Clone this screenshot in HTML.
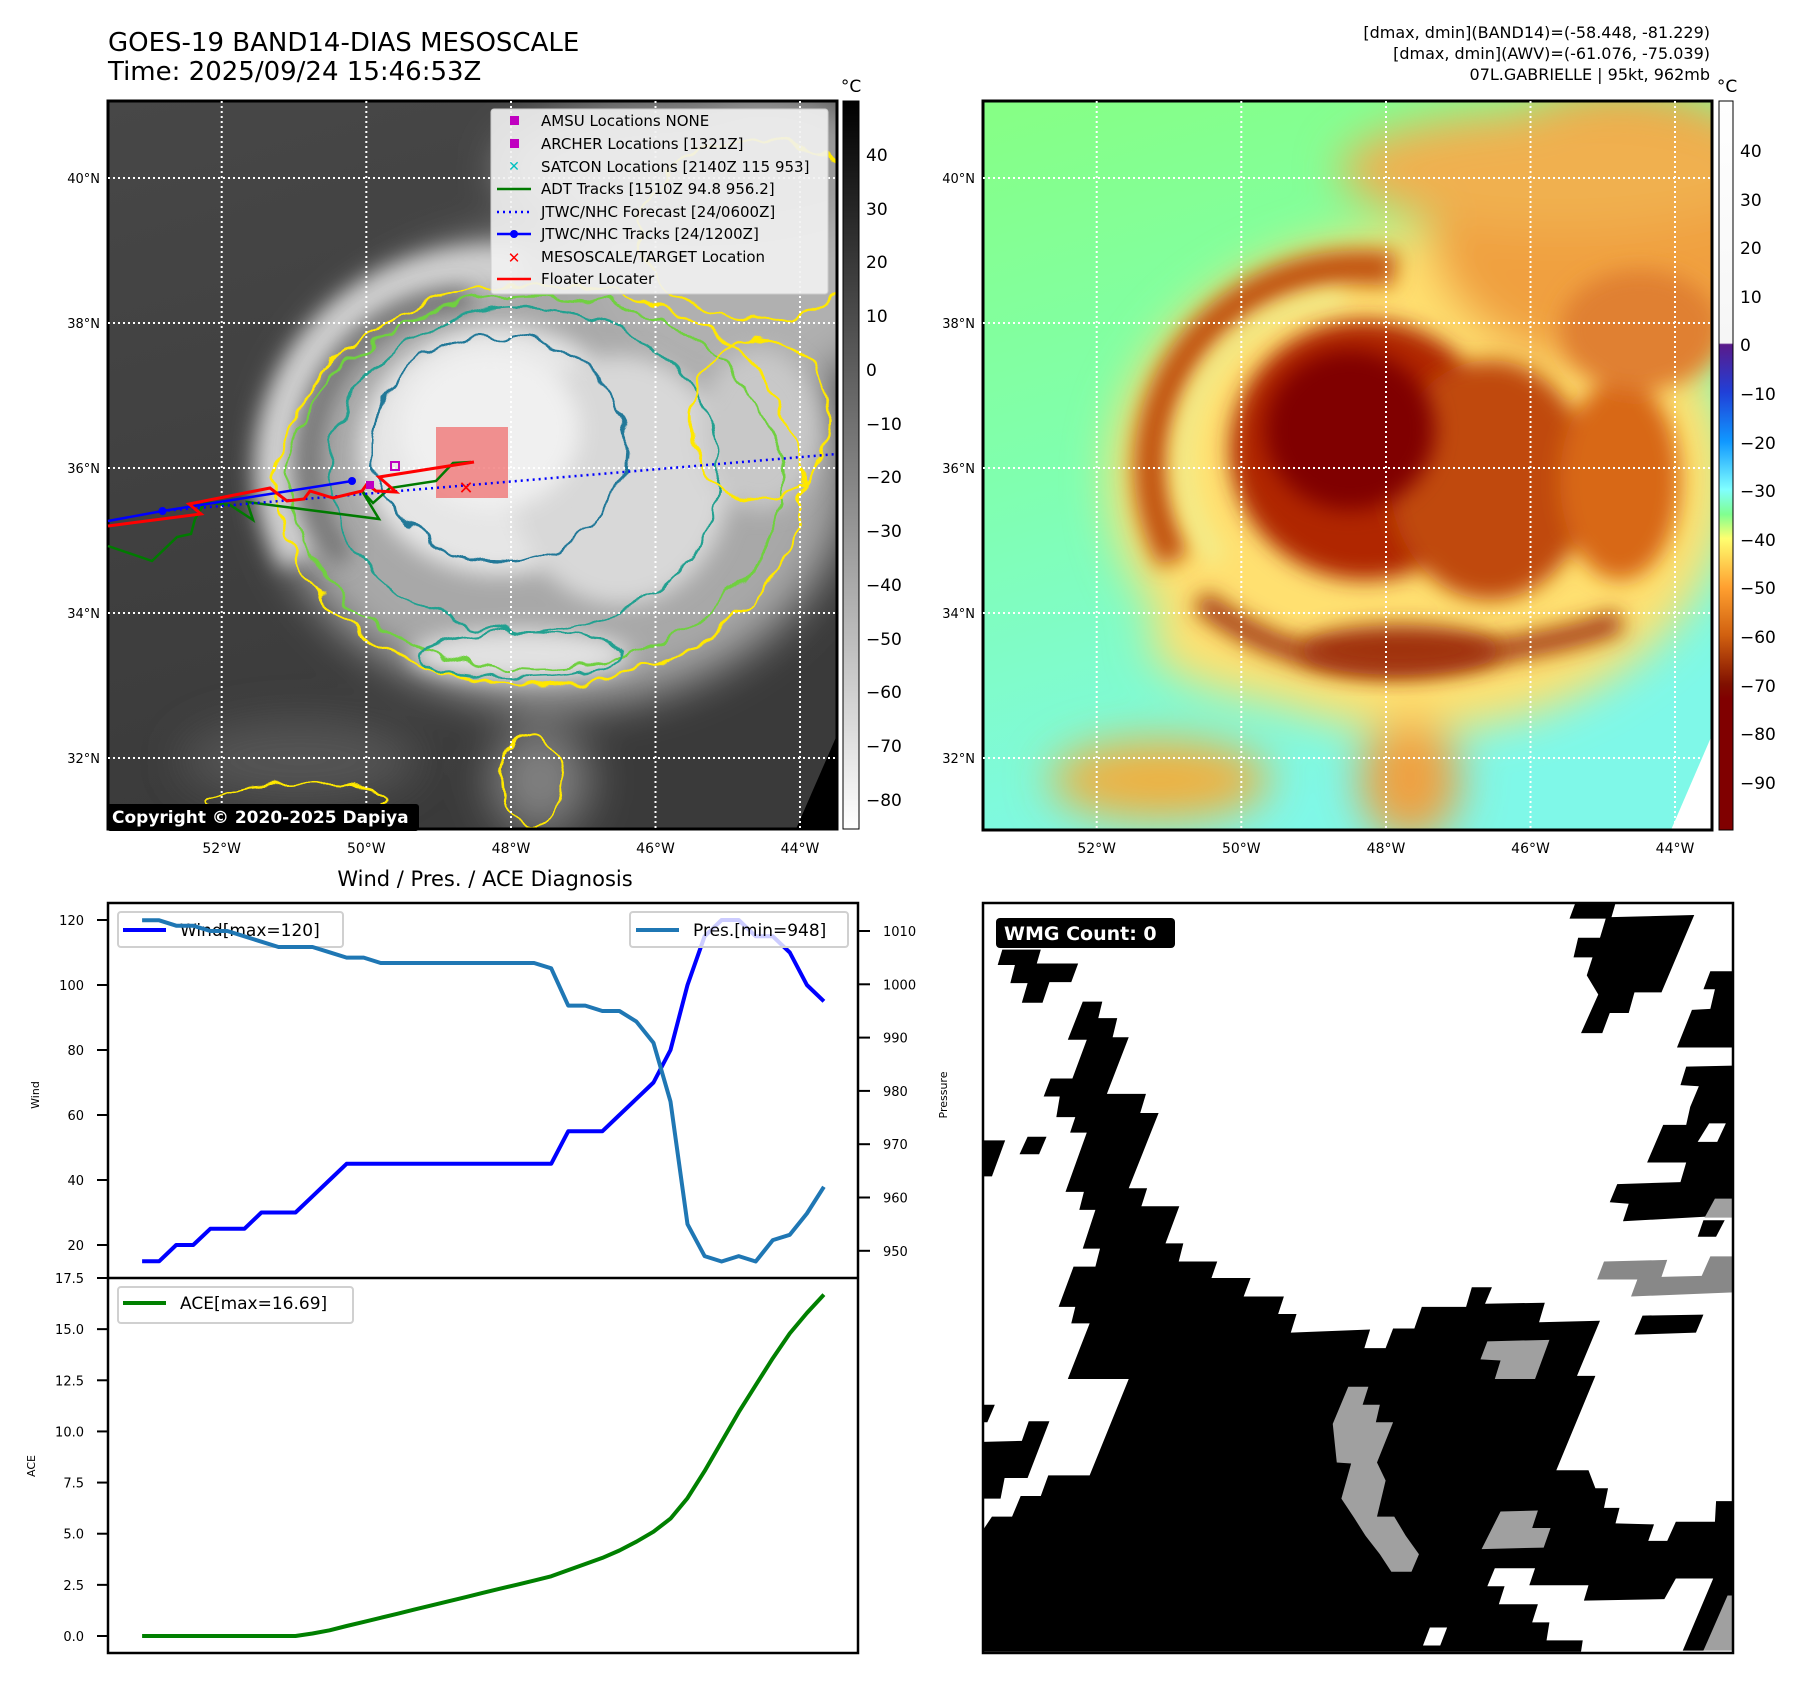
<!DOCTYPE html>
<html><head><meta charset="utf-8"><style>
html,body{margin:0;padding:0;background:#fff}
svg{display:block;font-family:"DejaVu Sans","Liberation Sans",sans-serif}
</style></head><body>
<svg id="fig" width="1801" height="1690" viewBox="0 0 1801 1690" xmlns="http://www.w3.org/2000/svg">
<defs>
<clipPath id="clipL"><rect x="108" y="101" width="729" height="728"/></clipPath>
<clipPath id="clipR"><rect x="983" y="101" width="729" height="729"/></clipPath>
<filter id="b25" x="-50%" y="-50%" width="200%" height="200%"><feGaussianBlur stdDeviation="22"/></filter>
<filter id="b12" x="-50%" y="-50%" width="200%" height="200%"><feGaussianBlur stdDeviation="11"/></filter>
<filter id="b6" x="-50%" y="-50%" width="200%" height="200%"><feGaussianBlur stdDeviation="5"/></filter>
<filter id="wob" x="-20%" y="-20%" width="140%" height="140%"><feTurbulence type="fractalNoise" baseFrequency="0.035" numOctaves="2" seed="3" result="n"/><feDisplacementMap in="SourceGraphic" in2="n" scale="22" xChannelSelector="R" yChannelSelector="G"/></filter>
<linearGradient id="gBgR" x1="0" y1="0" x2="0.3" y2="1"><stop offset="0" stop-color="#86ff84"/><stop offset="0.5" stop-color="#80ffb0"/><stop offset="1" stop-color="#7ff8e8"/></linearGradient>
<linearGradient id="gBgL" x1="0" y1="0" x2="0.3" y2="1"><stop offset="0" stop-color="#474747"/><stop offset="1" stop-color="#3a3a3a"/></linearGradient>
<linearGradient id="cbL" x1="0" y1="0" x2="0" y2="1"><stop offset="0" stop-color="#000"/><stop offset="1" stop-color="#fff"/></linearGradient>
<linearGradient id="cbR" x1="0" y1="0" x2="0" y2="1">
<stop offset="0" stop-color="#ffffff"/><stop offset="0.332" stop-color="#f6f6f6"/><stop offset="0.334" stop-color="#5a1a8a"/><stop offset="0.4" stop-color="#2040d8"/><stop offset="0.467" stop-color="#1098ff"/><stop offset="0.533" stop-color="#80ffff"/><stop offset="0.567" stop-color="#80ff90"/><stop offset="0.6" stop-color="#ffff70"/><stop offset="0.667" stop-color="#ffa030"/><stop offset="0.733" stop-color="#d06010"/><stop offset="0.8" stop-color="#801000"/><stop offset="0.82" stop-color="#800000"/><stop offset="1" stop-color="#800000"/></linearGradient>
</defs>

<text x="108" y="51" font-size="26">GOES-19 BAND14-DIAS MESOSCALE</text>
<text x="108" y="80" font-size="26">Time: 2025/09/24 15:46:53Z</text>
<g font-size="16" text-anchor="end">
<text x="1710" y="38">[dmax, dmin](BAND14)=(-58.448, -81.229)</text>
<text x="1710" y="59">[dmax, dmin](AWV)=(-61.076, -75.039)</text>
<text x="1710" y="80">07L.GABRIELLE | 95kt, 962mb</text>
</g>

<!-- LEFT MAP -->
<g clip-path="url(#clipL)">
<rect x="108" y="101" width="729" height="728" fill="url(#gBgL)"/>
<g filter="url(#b25)">
<ellipse cx="560" cy="470" rx="290" ry="235" fill="#a8a8a8"/>
<ellipse cx="760" cy="240" rx="170" ry="150" fill="#b0b0b0"/>
<ellipse cx="700" cy="170" rx="200" ry="70" fill="#9a9a9a"/>
<ellipse cx="300" cy="760" rx="120" ry="40" fill="#555"/>
<ellipse cx="540" cy="780" rx="50" ry="55" fill="#808080"/>
</g>
<path d="M300,560 A210,200 0 0 1 520,270" stroke="#d0d0d0" stroke-width="40" fill="none" filter="url(#b12)"/>
<path d="M344,560 A160,160 0 0 1 470,300" stroke="#707070" stroke-width="22" fill="none" filter="url(#b12)"/>
<g filter="url(#b12)">
<ellipse cx="500" cy="450" rx="140" ry="125" fill="#e6e6e6"/>
<ellipse cx="620" cy="480" rx="110" ry="125" fill="#d8d8d8"/>
<ellipse cx="520" cy="655" rx="110" ry="25" fill="#e2e2e2"/>
<ellipse cx="760" cy="430" rx="60" ry="80" fill="#c8c8c8"/>
</g>
<ellipse cx="490" cy="430" rx="90" ry="80" fill="#f0f0f0" filter="url(#b12)"/>
<g fill="none" stroke-width="2.5" filter="url(#wob)">
<ellipse cx="540" cy="485" rx="262" ry="200" stroke="#ffe800"/>
<ellipse cx="535" cy="482" rx="246" ry="186" stroke="#70d040"/>
<ellipse cx="525" cy="470" rx="195" ry="162" stroke="#20a090"/>
<ellipse cx="500" cy="448" rx="128" ry="112" stroke="#207898"/>
<ellipse cx="520" cy="655" rx="100" ry="22" stroke="#20a090"/>
<ellipse cx="760" cy="420" rx="70" ry="80" stroke="#ffe800"/>
<ellipse cx="760" cy="230" rx="120" ry="90" stroke="#ffe800"/>
<ellipse cx="530" cy="780" rx="30" ry="45" stroke="#ffe800"/>
<ellipse cx="300" cy="800" rx="90" ry="16" stroke="#ffe800"/>
</g>
<polygon points="837,735 837,829 796,829" fill="#000"/>
</g>
<rect x="108" y="101" width="729" height="728" fill="none" stroke="#000" stroke-width="3"/>
<g stroke="#fff" stroke-width="2" stroke-dasharray="2,3">
<line x1="221.7" y1="101" x2="221.7" y2="829"/><line x1="366.3" y1="101" x2="366.3" y2="829"/><line x1="511" y1="101" x2="511" y2="829"/><line x1="655.5" y1="101" x2="655.5" y2="829"/><line x1="800" y1="101" x2="800" y2="829"/>
<line x1="108" y1="178" x2="837" y2="178"/><line x1="108" y1="323" x2="837" y2="323"/><line x1="108" y1="468" x2="837" y2="468"/><line x1="108" y1="613" x2="837" y2="613"/><line x1="108" y1="758" x2="837" y2="758"/>
</g>
<g>
<rect x="436" y="427" width="72" height="71" fill="rgba(240,90,90,0.65)"/>
<polyline points="108,546 152,561 177,537 191,534 195,519 205,502 230,505 253,520 247,502 379,519 362,491 373,503 390,488 436,481 453,463 471,462" fill="none" stroke="#007a00" stroke-width="2.5"/>
<line x1="162" y1="511" x2="837" y2="454" stroke="#0000ff" stroke-width="2.5" stroke-dasharray="2,4"/>
<polyline points="108,521 162.5,511 352,481" fill="none" stroke="#0000ff" stroke-width="2.5"/>
<circle cx="162.5" cy="511" r="4" fill="#0000ff"/><circle cx="352" cy="481" r="4" fill="#0000ff"/>
<polyline points="108,526 201,514 189,504 270,488 287,501 304,499 310,491 333,498 362,491 367,484 376,491 396,492 379,477 474,462" fill="none" stroke="#ff0000" stroke-width="3"/>
<rect x="391" y="462" width="8" height="8" fill="none" stroke="#c000c0" stroke-width="2"/>
<rect x="366" y="481" width="8" height="8" fill="#c000c0"/>
<text x="466" y="494" font-size="18" font-weight="bold" fill="#ff0000" text-anchor="middle">✕</text>
</g>
<g>
<rect x="491" y="109" width="337" height="185" rx="3" fill="rgba(242,242,242,0.9)" stroke="#ccc"/>
<g font-size="15">
<rect x="510" y="116" width="9" height="9" fill="#c000c0"/><text x="541" y="126">AMSU Locations NONE</text>
<rect x="510" y="139" width="9" height="9" fill="#c000c0"/><text x="541" y="149">ARCHER Locations [1321Z]</text>
<text x="514" y="171" fill="#00c0c0" font-size="14" font-weight="bold" text-anchor="middle">✕</text><text x="541" y="172">SATCON Locations [2140Z 115 953]</text>
<line x1="497" y1="189" x2="531" y2="189" stroke="#007a00" stroke-width="2.5"/><text x="541" y="194">ADT Tracks [1510Z 94.8 956.2]</text>
<line x1="497" y1="212" x2="531" y2="212" stroke="#0000ff" stroke-width="2.5" stroke-dasharray="2,4"/><text x="541" y="217">JTWC/NHC Forecast [24/0600Z]</text>
<line x1="497" y1="234" x2="531" y2="234" stroke="#0000ff" stroke-width="2.5"/><circle cx="514" cy="234" r="4" fill="#0000ff"/><text x="541" y="239">JTWC/NHC Tracks [24/1200Z]</text>
<text x="514" y="263" fill="#ff0000" font-size="15" font-weight="bold" text-anchor="middle">✕</text><text x="541" y="262">MESOSCALE/TARGET Location</text>
<line x1="497" y1="279" x2="531" y2="279" stroke="#ff0000" stroke-width="2.5"/><text x="541" y="284">Floater Locater</text>
</g></g>
<g>
<rect x="107" y="804" width="312" height="27" rx="3" fill="#000"/>
<text x="112" y="823" font-size="17" font-weight="bold" fill="#fff">Copyright © 2020-2025 Dapiya</text>
</g>
<g font-size="13" text-anchor="end">
<text x="100" y="183">40°N</text><text x="100" y="328">38°N</text><text x="100" y="473">36°N</text><text x="100" y="618">34°N</text><text x="100" y="763">32°N</text></g>
<g font-size="14" text-anchor="middle">
<text x="221.7" y="853">52°W</text><text x="366.3" y="853">50°W</text><text x="511" y="853">48°W</text><text x="655.5" y="853">46°W</text><text x="800" y="853">44°W</text></g>
<g>
<rect x="843" y="101" width="16" height="728" fill="url(#cbL)" stroke="#000" stroke-width="1"/>
<text x="851" y="92" font-size="17" text-anchor="middle">°C</text>
<g font-size="17">
<text x="866" y="161">40</text><text x="866" y="215">30</text><text x="866" y="268">20</text><text x="866" y="322">10</text><text x="866" y="376">0</text><text x="866" y="430">−10</text><text x="866" y="483">−20</text><text x="866" y="537">−30</text><text x="866" y="591">−40</text><text x="866" y="645">−50</text><text x="866" y="698">−60</text><text x="866" y="752">−70</text><text x="866" y="806">−80</text>
</g></g>

<!-- RIGHT MAP -->
<g clip-path="url(#clipR)">
<rect x="983" y="101" width="729" height="729" fill="url(#gBgR)"/>
<g filter="url(#b25)">
<ellipse cx="1420" cy="480" rx="310" ry="250" fill="#ffe070"/>
<ellipse cx="1380" cy="640" rx="230" ry="70" fill="#ffe070"/>
<ellipse cx="1620" cy="230" rx="190" ry="140" fill="#f0a040"/>
<ellipse cx="1560" cy="170" rx="220" ry="60" fill="#f0b050"/>
<ellipse cx="1160" cy="780" rx="110" ry="40" fill="#f0b040"/>
<ellipse cx="1410" cy="780" rx="50" ry="60" fill="#f0a040"/>
</g>
<path d="M1175,560 A210,200 0 0 1 1395,270" stroke="#c05010" stroke-width="34" fill="none" filter="url(#b12)"/>
<path d="M1219,560 A160,160 0 0 1 1345,300" stroke="#f0f090" stroke-width="18" fill="none" filter="url(#b12)"/>
<path d="M1200,600 Q1300,680 1440,660 T1620,620" stroke="#a03008" stroke-width="22" fill="none" filter="url(#b12)"/>
<g filter="url(#b12)">
<ellipse cx="1365" cy="450" rx="135" ry="130" fill="#b02800"/>
<ellipse cx="1490" cy="480" rx="100" ry="120" fill="#c04a08"/>
<ellipse cx="1620" cy="480" rx="60" ry="100" fill="#d86818"/>
<ellipse cx="1640" cy="330" rx="80" ry="60" fill="#e08030"/>
<ellipse cx="1400" cy="650" rx="100" ry="25" fill="#a03010"/>
</g>
<ellipse cx="1350" cy="430" rx="85" ry="80" fill="#800000" filter="url(#b12)"/>
<polygon points="1712,735 1712,830 1671,830" fill="#fff"/>
</g>
<rect x="983" y="101" width="729" height="729" fill="none" stroke="#000" stroke-width="3"/>
<g stroke="#fff" stroke-width="2" stroke-dasharray="2,3">
<line x1="1096.7" y1="101" x2="1096.7" y2="830"/><line x1="1241.3" y1="101" x2="1241.3" y2="830"/><line x1="1386" y1="101" x2="1386" y2="830"/><line x1="1530.5" y1="101" x2="1530.5" y2="830"/><line x1="1675" y1="101" x2="1675" y2="830"/>
<line x1="983" y1="178" x2="1712" y2="178"/><line x1="983" y1="323" x2="1712" y2="323"/><line x1="983" y1="468" x2="1712" y2="468"/><line x1="983" y1="613" x2="1712" y2="613"/><line x1="983" y1="758" x2="1712" y2="758"/>
</g>
<g font-size="13" text-anchor="end">
<text x="975" y="183">40°N</text><text x="975" y="328">38°N</text><text x="975" y="473">36°N</text><text x="975" y="618">34°N</text><text x="975" y="763">32°N</text></g>
<g font-size="14" text-anchor="middle">
<text x="1096.7" y="853">52°W</text><text x="1241.3" y="853">50°W</text><text x="1386" y="853">48°W</text><text x="1530.5" y="853">46°W</text><text x="1675" y="853">44°W</text></g>
<g>
<rect x="1719" y="101" width="14" height="729" fill="url(#cbR)" stroke="#000" stroke-width="1"/>
<text x="1727" y="92" font-size="17" text-anchor="middle">°C</text>
<g font-size="17">
<text x="1740" y="157">40</text><text x="1740" y="206">30</text><text x="1740" y="254">20</text><text x="1740" y="303">10</text><text x="1740" y="351">0</text><text x="1740" y="400">−10</text><text x="1740" y="449">−20</text><text x="1740" y="497">−30</text><text x="1740" y="546">−40</text><text x="1740" y="594">−50</text><text x="1740" y="643">−60</text><text x="1740" y="692">−70</text><text x="1740" y="740">−80</text><text x="1740" y="789">−90</text>
</g></g>

<text x="485" y="886" font-size="21" text-anchor="middle">Wind / Pres. / ACE Diagnosis</text>
<g id="chart"></g>

<g>
<rect x="983" y="903" width="750" height="750" fill="#fff"/>
<g transform="translate(900,880) scale(0.5747,0.5155)">
<polygon fill="#000" points="145,1260 160,1235 195,1235 210,1195 245,1195 258,1155 330,1155 398,968 292,968 330,860 298,860 305,828 276,828 302,750 340,750 348,715 318,715 340,640 312,640 320,605 288,605 325,490 296,490 305,460 272,460 278,420 250,420 262,385 300,385 325,310 292,310 318,236 352,236 345,268 378,268 370,305 398,305 360,415 428,415 418,452 450,452 398,598 430,598 420,633 486,633 462,705 493,705 485,740 552,740 542,772 610,772 598,808 668,808 658,842 690,842 680,878 818,872 808,908 845,908 858,870 895,870 908,828 985,828 995,790 1030,790 1018,822 1122,820 1112,858 1218,855 1178,962 1210,962 1142,1145 1198,1145 1210,1180 1232,1180 1225,1218 1252,1218 1245,1248 1312,1250 1302,1282 1335,1282 1350,1245 1418,1245 1420,1205 1450,1205 1450,1395 1398,1495 1362,1495 1415,1355 1350,1355 1330,1395 1190,1398 1198,1368 1095,1368 1105,1335 1035,1335 1022,1370 1052,1370 1042,1405 1110,1405 1100,1440 1130,1440 1125,1475 1188,1475 1185,1497 145,1497"/>
<polygon fill="#fff" points="910,1485 922,1450 952,1450 940,1485"/>
<polygon fill="#000" points="145,505 183,505 160,575 145,575"/>
<polygon fill="#000" points="208,532 222,498 255,498 242,532"/>
<polygon fill="#000" points="145,1018 165,1018 152,1052 145,1052"/>
<polygon fill="#000" points="145,1090 212,1088 224,1050 260,1050 222,1160 182,1160 175,1200 145,1200"/>
<polygon fill="#000" points="170,165 178,135 245,135 238,162 310,162 298,198 260,198 248,238 212,238 222,200 192,200 200,165"/>
<polygon fill="#000" points="1165,75 1175,45 1245,45 1238,72 1382,68 1325,218 1278,218 1268,258 1235,258 1222,297 1185,297 1215,222 1195,185 1205,150 1172,150 1180,112 1218,112 1228,75"/>
<polygon fill="#000" points="1398,212 1410,177 1450,177 1450,325 1352,325 1378,252 1410,250 1418,212"/>
<polygon fill="#000" points="1358,398 1368,362 1450,360 1450,650 1258,662 1268,628 1235,625 1248,590 1358,586 1368,548 1300,548 1328,475 1368,475 1375,440 1390,400"/>
<polygon fill="#fff" points="1388,508 1408,472 1437,472 1422,508"/>
<polygon fill="#000" points="1388,692 1398,660 1435,660 1420,692"/>
<polygon fill="#000" points="1278,882 1292,845 1398,843 1385,878"/>
<polygon fill="#888" points="1213,775 1225,740 1335,737 1325,770 1395,768 1410,730 1450,730 1450,800 1272,808 1283,775"/>
<polygon fill="#a0a0a0" points="1400,655 1418,618 1450,618 1450,655"/>
<polygon fill="#a0a0a0" points="1010,930 1022,895 1130,892 1105,968 1035,968 1045,932"/>
<polygon fill="#a0a0a0" points="1012,1298 1045,1225 1110,1223 1100,1257 1132,1257 1120,1295"/>
<polygon fill="#a0a0a0" points="753,1055 780,983 815,983 805,1018 835,1018 828,1052 858,1052 830,1130 845,1165 830,1235 860,1235 880,1272 903,1308 890,1342 855,1342 835,1308 810,1272 790,1237 768,1200 785,1132 760,1130"/>
<polygon fill="#a0a0a0" points="1398,1495 1440,1388 1450,1388 1450,1495"/>
</g>
<rect x="983" y="903" width="750" height="750" fill="none" stroke="#000" stroke-width="2.5"/>
<rect x="996" y="918" width="179" height="30" rx="4" fill="#000"/>
<text x="1004" y="940" font-size="19" font-weight="bold" fill="#fff">WMG Count: 0</text>
</g>
</svg>
<script>
const fixIndex = [0,1,2,3,4,5,6,7,8,9,10,11,12,13,14,15,16,17,18,19,20,21,22,23,24,25,26,27,28,29,30,31,32,33,34,35,36,37,38,39,40];
const windKt = [15,15,20,20,25,25,25,30,30,30,35,40,45,45,45,45,45,45,45,45,45,45,45,45,45,55,55,55,60,65,70,80,100,115,120,120,115,115,110,100,95];
const presMb = [1012,1012,1011,1011,1010,1010,1009,1008,1007,1007,1007,1006,1005,1005,1004,1004,1004,1004,1004,1004,1004,1004,1004,1004,1003,996,996,995,995,993,989,978,955,949,948,949,948,952,953,957,962];
const aceVal = [0,0,0,0,0,0,0,0,0,0,0.12,0.28,0.49,0.69,0.89,1.09,1.30,1.50,1.70,1.90,2.11,2.31,2.51,2.71,2.92,3.22,3.52,3.82,4.18,4.61,5.10,5.74,6.74,8.06,9.50,10.94,12.26,13.58,14.79,15.79,16.69];
const windTicks = [20,40,60,80,100,120];
const presTicks = [950,960,970,980,990,1000,1010];
const aceTicks = [0,2.5,5,7.5,10,12.5,15,17.5];

const NS = 'http://www.w3.org/2000/svg';
const chart = document.getElementById('chart');
const AX_L = 108, AX_R = 858, AX_T = 903, AX_M = 1278, AX_B = 1653;
function xS(i){ return AX_L + (i + 2) * (AX_R - AX_L) / 44; }
function yW(v){ return 1245 - (v - 20) * 3.25; }
function yP(p){ return 931 + (1010 - p) * 5.33; }
function yA(a){ return 1636 - a * 20.457; }
function mk(tag, attrs, parent){
  const e = document.createElementNS(NS, tag);
  for (const k in attrs) e.setAttribute(k, attrs[k]);
  (parent || chart).appendChild(e);
  return e;
}
function pathFrom(vals, yf){
  return vals.map((v, k) => (k ? 'L' : 'M') + xS(fixIndex[k]).toFixed(1) + ',' + yf(v).toFixed(1)).join(' ');
}
const fr = mk('rect', {x:AX_L, y:AX_T, width:AX_R-AX_L, height:AX_B-AX_T, fill:'#fff'});


windTicks.forEach(v => {
  const y = yW(v);
  mk('line', {x1:97, y1:y, x2:AX_L, y2:y, stroke:'#000', 'stroke-width':2});
  const t = mk('text', {x:84, y:y+5, 'font-size':13, 'text-anchor':'end'});
  t.textContent = v;
  
  
});
presTicks.forEach(v => {
  const y = yP(v);
  mk('line', {x1:AX_R, y1:y, x2:AX_R+12, y2:y, stroke:'#000', 'stroke-width':2});
  const t = mk('text', {x:883, y:y+5, 'font-size':13});
  t.textContent = v;
  
  
});
aceTicks.forEach(v => {
  const y = yA(v);
  mk('line', {x1:97, y1:y, x2:AX_L, y2:y, stroke:'#000', 'stroke-width':2});
  const t = mk('text', {x:84, y:y+5, 'font-size':13, 'text-anchor':'end'});
  t.textContent = v.toFixed(1);
  
  
});
const yl1 = mk('text', {x:0, y:0, 'font-size':11, 'text-anchor':'middle', transform:'translate(39,1095) rotate(-90)'});
yl1.textContent = 'Wind';


const yl2 = mk('text', {x:0, y:0, 'font-size':11, 'text-anchor':'middle', transform:'translate(947,1095) rotate(-90)'});
yl2.textContent = 'Pressure';


const yl3 = mk('text', {x:0, y:0, 'font-size':11, 'text-anchor':'middle', transform:'translate(35,1466) rotate(-90)'});
yl3.textContent = 'ACE';


const wl = mk('path', {d:pathFrom(windKt, yW), fill:'none', stroke:'#0000ff', 'stroke-width':4, 'stroke-linejoin':'round'});


const wlg = mk('g', {});


mk('rect', {x:118, y:912, width:225, height:35, rx:3, fill:'rgba(255,255,255,0.8)', stroke:'#d0d0d0', 'stroke-width':2}, wlg);
mk('line', {x1:123, y1:930, x2:166, y2:930, stroke:'#0000ff', 'stroke-width':4}, wlg);
const wlt = mk('text', {x:180, y:936, 'font-size':17}, wlg);
wlt.textContent = 'Wind[max=120]';
const pl = mk('path', {d:pathFrom(presMb, yP), fill:'none', stroke:'#1f77b4', 'stroke-width':4, 'stroke-linejoin':'round'});


const plg = mk('g', {});


mk('rect', {x:630, y:912, width:218, height:35, rx:3, fill:'rgba(255,255,255,0.8)', stroke:'#d0d0d0', 'stroke-width':2}, plg);
mk('line', {x1:636, y1:930, x2:679, y2:930, stroke:'#1f77b4', 'stroke-width':4}, plg);
const plt = mk('text', {x:693, y:936, 'font-size':17}, plg);
plt.textContent = 'Pres.[min=948]';
const al = mk('path', {d:pathFrom(aceVal, yA), fill:'none', stroke:'#008000', 'stroke-width':4, 'stroke-linejoin':'round'});


const alg = mk('g', {});


mk('rect', {x:118, y:1287, width:235, height:36, rx:3, fill:'rgba(255,255,255,0.8)', stroke:'#d0d0d0', 'stroke-width':2}, alg);
mk('line', {x1:123, y1:1303, x2:166, y2:1303, stroke:'#008000', 'stroke-width':4}, alg);
const alt = mk('text', {x:180, y:1309, 'font-size':17}, alg);
alt.textContent = 'ACE[max=16.69]';
mk('rect', {x:AX_L, y:AX_T, width:AX_R-AX_L, height:AX_B-AX_T, fill:'none', stroke:'#000', 'stroke-width':2.5});
mk('line', {x1:AX_L, y1:AX_M, x2:AX_R, y2:AX_M, stroke:'#000', 'stroke-width':2.5});
</script>
</body></html>
